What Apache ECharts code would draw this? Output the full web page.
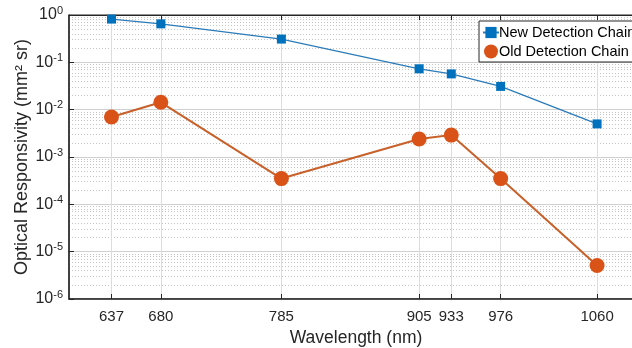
<!DOCTYPE html>
<html lang="en">
<head>
    <meta charset="UTF-8">
    <title>Optical Responsivity</title>
    <script src="https://cdn.jsdelivr.net/npm/echarts@6/dist/echarts.min.js"></script>
    <style>
        html, body { margin: 0; padding: 0; background: #fff; }
        .demo { width: 632px; height: 348px; }
    </style>
</head>
<body>
    <div class="demo"></div>
    <script>
        // data
        var wavelengths = [637, 680, 785, 905, 933, 976, 1060]
        var newChain = [0.82, 0.65, 0.31, 0.073, 0.057, 0.031, 0.0050]
        var oldChain = [0.0070, 0.0143, 0.00035, 0.0024, 0.0029, 0.00035, 0.0000051]
        var yExponents = [-6, -5, -4, -3, -2, -1, 0]

        var chart = echarts.init(document.querySelector('.demo'))
        var axisColor = '#262626'
        var font = 'Liberation Sans, Arial, sans-serif'
        var yMin = yExponents[0], yMax = yExponents[yExponents.length - 1]

        function pairs(ys) {
            return wavelengths.map(function (x, i) { return [x, ys[i]] })
        }

        // minor log grid lines (2..9 per decade), placed on a hidden linear axis holding log10 values
        var minorLines = []
        for (var e = yMin; e < yMax; e++) {
            for (var m = 2; m <= 9; m++) {
                minorLines.push({ yAxis: e + Math.log10(m) })
            }
        }
        var vLines = wavelengths.map(function (w) { return { xAxis: w } })

        var option = {
            animation: false,
            grid: {
                left: 69, top: 15, width: 574, height: 284,
                outerBoundsMode: 'none',
                containLabel: false,
                show: true, borderColor: axisColor, borderWidth: 1
            },
            legend: {
                data: [
                    { name: 'New Detection Chain' },
                    { name: 'Old Detection Chain', icon: 'circle' }
                ],
                orient: 'vertical',
                left: 479, top: 21,
                z: 10,
                backgroundColor: '#fff',
                borderColor: axisColor, borderWidth: 1,
                padding: [4, 4, 3, 3],
                itemGap: 4,
                itemWidth: 16, itemHeight: 14,
                textStyle: { fontFamily: font, fontSize: 14.5, color: '#000', padding: [0, 0, 0, -5] }
            },
            xAxis: [{
                type: 'value',
                min: 600, max: 1100,
                name: 'Wavelength (nm)',
                nameLocation: 'middle',
                nameGap: 30,
                nameTextStyle: { fontFamily: font, fontSize: 17.5, color: axisColor },
                axisLine: { show: true, onZero: false, lineStyle: { color: axisColor, width: 1.5 } },
                axisTick: { show: true, inside: true, length: 5, customValues: wavelengths, lineStyle: { color: axisColor } },
                axisLabel: {
                    customValues: wavelengths, margin: 10,
                    fontFamily: font, fontSize: 15, color: axisColor,
                    formatter: function (v) { return String(v) }
                },
                splitLine: { show: false }
            }, {
                type: 'value',
                position: 'top',
                min: 600, max: 1100,
                axisLine: { show: true, lineStyle: { color: axisColor, width: 1 } },
                axisTick: { show: true, inside: true, length: 5, customValues: wavelengths, lineStyle: { color: axisColor } },
                axisLabel: { show: false },
                splitLine: { show: false }
            }],
            yAxis: [{
                type: 'log',
                logBase: 10,
                min: Math.pow(10, yMin),
                max: Math.pow(10, yMax),
                interval: 1,
                name: 'Optical Responsivity (mm\u00b2 sr)',
                nameLocation: 'middle',
                nameMoveOverlap: false,
                nameGap: 38,
                nameTextStyle: { fontFamily: font, fontSize: 18, color: axisColor },
                axisLine: { show: true, lineStyle: { color: axisColor, width: 1.5 } },
                axisTick: { show: true, inside: true, length: 5, lineStyle: { color: axisColor } },
                axisLabel: {
                    margin: 6,
                    formatter: function (v) {
                        return '{b|10}{s|' + Math.round(Math.log10(v)) + '}'
                    },
                    rich: {
                        b: { fontFamily: font, fontSize: 16, color: axisColor },
                        s: { fontFamily: font, fontSize: 11, color: axisColor, verticalAlign: 'bottom', padding: [0, 0, 9, 0] }
                    }
                },
                splitLine: { show: true, lineStyle: { color: '#d0d0d0', width: 1 } }
            }, {
                type: 'value',
                min: yMin, max: yMax,
                show: false,
                splitLine: { show: false }
            }],
            series: [{
                name: 'minor',
                type: 'line',
                yAxisIndex: 1,
                data: [],
                z: 0,
                silent: true,
                markLine: {
                    silent: true,
                    z: 0,
                    symbol: 'none',
                    precision: 6,
                    label: { show: false },
                    lineStyle: { type: [1, 2], color: '#c4c4c4', width: 1 },
                    data: minorLines
                }
            }, {
                name: 'vgrid',
                type: 'line',
                data: [],
                z: 0,
                silent: true,
                markLine: {
                    silent: true,
                    z: 0,
                    symbol: 'none',
                    label: { show: false },
                    lineStyle: { type: 'solid', color: '#dcdcdc', width: 1 },
                    data: vLines
                }
            }, {
                name: 'New Detection Chain',
                type: 'line',
                data: pairs(newChain),
                color: '#0072BD',
                symbol: 'rect',
                symbolSize: 9,
                lineStyle: { width: 1.3, color: '#2b7bb9' },
                itemStyle: { color: '#0072BD', borderWidth: 0 },
                z: 3
            }, {
                name: 'Old Detection Chain',
                type: 'line',
                data: pairs(oldChain),
                color: '#D95319',
                symbol: 'circle',
                symbolSize: 15,
                lineStyle: { width: 2, color: '#C8602A' },
                itemStyle: { color: '#D95319', borderWidth: 0 },
                z: 3
            }]
        }

        chart.setOption(option)
    </script>
</body>
</html>
